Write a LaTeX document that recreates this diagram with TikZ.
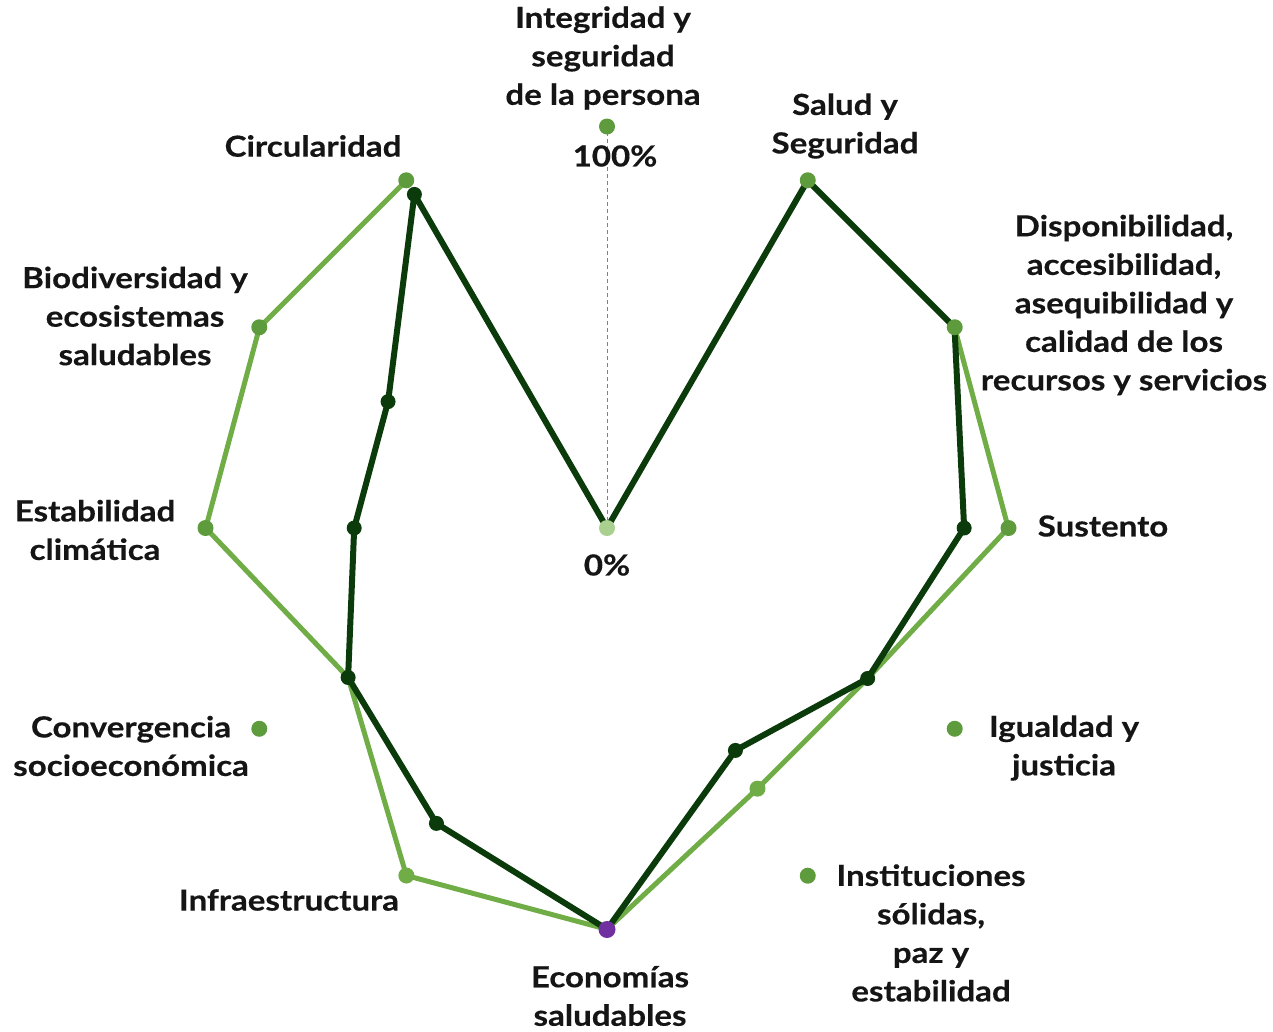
\documentclass[tikz,border=0pt]{standalone}
\usepackage{fontspec}
\setmainfont{Lato}[UprightFont=* Bold, FakeStretch=1.14, FakeBold=0.4]
\usetikzlibrary{calc}
\definecolor{darkg}{HTML}{0B3B0B}
\definecolor{lightg}{HTML}{70AD47}
\definecolor{midg}{HTML}{5E9B3C}
\definecolor{paleg}{HTML}{A9D08E}
\definecolor{purp}{HTML}{7030A0}
\definecolor{txt}{HTML}{151515}
\tikzset{
  lbl/.style={text=txt, font=\fontsize{29}{38.5}\selectfont, align=center, inner sep=0pt},
  darkline/.style={draw=darkg, line width=6pt, line join=round},
  lightline/.style={draw=lightg, line width=5pt, line join=round},
  markdot/.style={fill=midg, circle, minimum size=16pt, inner sep=0pt},
  darkdot/.style={fill=darkg, circle, minimum size=15pt, inner sep=0pt},
  lightdot/.style={fill=lightg, circle, minimum size=16pt, inner sep=0pt},
}
\begin{document}
\begin{tikzpicture}[x=1pt,y=-1pt]
\useasboundingbox (0,0) rectangle (1273,1031);
\coordinate (C) at (607,528);
\def\R{401.5}
% axis marker positions (100%)
\foreach \i in {0,...,11}{
  \pgfmathsetmacro\ang{90-30*\i}
  \coordinate (m\i) at ($(C)+(\ang:\R pt)$);
}
% dark series
\foreach \i/\p in {0/0,1/100,2/100,3/89,4/75,5/64,6/100,7/85,8/74.5,9/63,10/63,11/96}{
  \pgfmathsetmacro\ang{90-30*\i}
  \pgfmathsetmacro\rr{\R*0.01*\p}
  \coordinate (d\i) at ($(C)+(\ang:\rr pt)$);
}
% light series
\foreach \i/\p in {1/100,2/100,3/100,4/75,5/75,6/100,7/100,8/74.5,9/100,10/100,11/100}{
  \pgfmathsetmacro\ang{90-30*\i}
  \pgfmathsetmacro\rr{\R*0.01*\p}
  \coordinate (l\i) at ($(C)+(\ang:\rr pt)$);
}
% dashed axis
\draw[gray, line width=1pt, dash pattern=on 4pt off 3pt] (C) -- (m0);
% light polyline
\draw[lightline] (l1) -- (l2) -- (l3) -- (l4) -- (l5) -- (l6) -- (l7) -- (l8) -- (l9) -- (l10) -- (l11);
% dark polyline
\draw[darkline] (d0) -- (d1) -- (d2) -- (d3) -- (d4) -- (d5) -- (d6) -- (d7) -- (d8) -- (d9) -- (d10) -- (d11) -- cycle;
% light vertex dots
\node[lightdot] (lv5) at (l5) {};
\node[lightdot] (lv7) at (l7) {};
% axis markers
\foreach \i in {0,1,2,3,4,5,8,9,10,11}{
  \node[markdot] (mk\i) at (m\i) {};
}
% dark vertex dots
\foreach \i in {3,4,5,7,8,9,10,11}{
  \node[darkdot] (dv\i) at (d\i) {};
}
\node[fill=purp, circle, minimum size=17pt, inner sep=0pt] (ec) at (m6) {};
\node[fill=paleg, circle, minimum size=16pt, inner sep=0pt] (cen) at (C) {};
% labels
\node[lbl] (t0) at (603,58) {Integridad y\\seguridad\\de la persona};
\node[lbl] (p100) at (615,156) {100\%};
\node[lbl] (p0) at (607,565) {0\%};
\node[lbl] (t1) at (845,126) {Salud y\\Seguridad};
\node[lbl] (t2) at (1124,305) {Disponibilidad,\\accesibilidad,\\asequibilidad y\\calidad de los\\recursos y servicios};
\node[lbl] (t3) at (1103,526) {Sustento};
\node[lbl] (t4) at (1064,748) {Igualdad y\\justicia};
\node[lbl] (t5) at (931,933) {Instituciones\\sólidas,\\paz y\\estabilidad};
\node[lbl] (t6) at (610,996) {Economías\\saludables};
\node[lbl] (t7) at (289,900) {Infraestructura};
\node[lbl] (t8) at (131,746) {Convergencia\\socioeconómica};
\node[lbl] (t9) at (95,530) {Estabilidad\\climática};
\node[lbl] (t10) at (135,316) {Biodiversidad y\\ecosistemas\\saludables};
\node[lbl] (t11) at (313,146) {Circularidad};
\end{tikzpicture}
\end{document}
